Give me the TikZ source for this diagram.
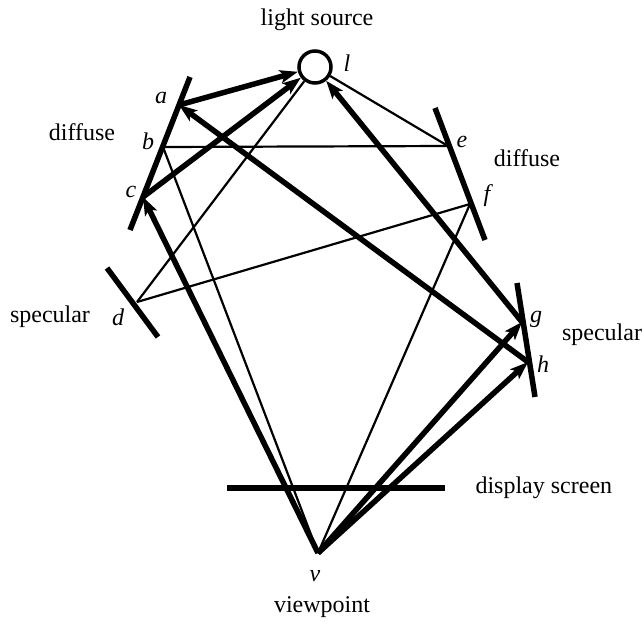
\documentclass[tikz,border=0pt]{standalone}
\usepackage{fontspec}
\setmainfont{Liberation Serif}
\usetikzlibrary{arrows.meta}

\begin{document}
\begin{tikzpicture}[x=1pt, y=-1pt, font=\fontsize{24}{28}\selectfont,
    ray/.style={line width=2.2pt},
    bigray/.style={line width=5.5pt, -{Stealth[length=18pt, width=13pt, inset=4pt]}},
    surface/.style={line width=5.5pt},
    lbl/.style={font=\fontsize{24}{28}\selectfont\itshape, inner sep=1pt}]

    \useasboundingbox (0,0) rectangle (644,623);

    % Light source
    \node[draw, circle, line width=3.5pt, minimum size=32pt, inner sep=0pt] (l) at (315,67) {};
    \node (lsrc) at (317,20) {light source};
    \node[lbl] (llbl) at (347,63) {l};

    % Diffuse surface a, b, c
    \coordinate (abc1) at (190,77);
    \coordinate (abc2) at (130,230);
    \draw[surface] (abc1) -- (abc2);
    \coordinate (a) at (179,105);
    \coordinate (b) at (163,147);
    \coordinate (c) at (143,197);
    \node[lbl] (albl) at (161,98) {a};
    \node[lbl] (blbl) at (148,141) {b};
    \node[lbl] (clbl) at (131,192) {c};
    \node (dif1) at (82,132) {diffuse};

    % Diffuse surface e, f
    \coordinate (ef1) at (435,108);
    \coordinate (ef2) at (485,240);
    \draw[surface] (ef1) -- (ef2);
    \coordinate (e) at (448,146);
    \coordinate (f) at (470,204);
    \node[lbl] (elbl) at (462,142) {e};
    \node[lbl] (flbl) at (487,196) {f};
    \node (dif2) at (527,158) {diffuse};

    % Specular surface d
    \coordinate (d1) at (107,268);
    \coordinate (d2) at (158,337);
    \draw[surface] (d1) -- (d2);
    \coordinate (d) at (137,302);
    \node[lbl] (dlbl) at (118,317) {d};
    \node (spec1) at (50,317) {specular};

    % Specular surface g, h
    \coordinate (gh1) at (517,283);
    \coordinate (gh2) at (535,397);
    \draw[surface] (gh1) -- (gh2);
    \coordinate (g) at (522,322);
    \coordinate (h) at (528,362);
    \node[lbl] (glbl) at (536,319) {g};
    \node[lbl] (hlbl) at (543,364) {h};
    \node (spec2) at (602,335) {specular};

    % Display screen and viewpoint
    \coordinate (scr1) at (227,488);
    \coordinate (scr2) at (445,488);
    \draw[surface] (scr1) -- (scr2);
    \node[anchor=west] (scrlbl) at (472,488) {display screen};
    \coordinate (v) at (318,553);
    \node[lbl] (vlbl) at (315,576) {v};
    \node (vp) at (322,607) {viewpoint};

    % Thin rays
    \draw[ray] (l) -- (e);
    \draw[ray] (b) -- (e);
    \draw[ray] (b) -- (v);
    \draw[ray] (d) -- (l);
    \draw[ray] (d) -- (f);
    \draw[ray] (f) -- (v);

    % Thick rays
    \draw[bigray] (a) -- (l);
    \draw[bigray] (c) -- (l);
    \draw[bigray] (v) -- (c);
    \draw[bigray] (h) -- (a);
    \draw[bigray] (g) -- (l);
    \draw[bigray] (v) -- (g);
    \draw[bigray] (v) -- (h);

\end{tikzpicture}
\end{document}
